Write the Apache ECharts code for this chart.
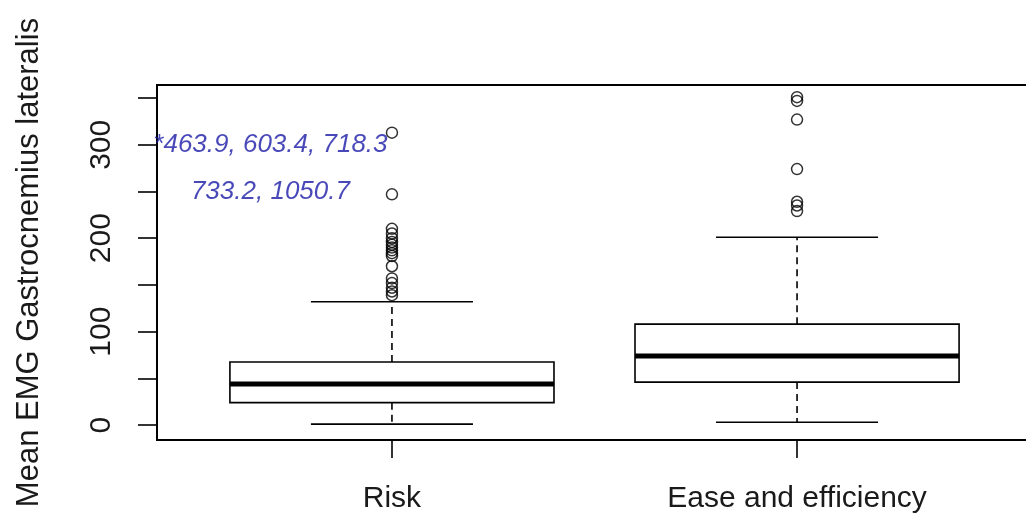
<!DOCTYPE html>
<html>
<head>
<meta charset="utf-8">
<script src="https://cdn.jsdelivr.net/npm/echarts@6/dist/echarts.min.js"></script>
<style>
  html, body { margin: 0; padding: 0; background: #fff; }
  #chart { width: 1026px; height: 518px; }
</style>
</head>
<body>
<div id="chart"></div>
<script>
// ---- data ----
const categories = ['Risk', 'Ease and efficiency'];
// [lower whisker, Q1, median, Q3, upper whisker]
const riskBox = [1, 24, 44, 67.5, 132];
const easeBox = [3, 46, 74, 108, 201];
const riskOutliers = [313, 247, 210, 205, 200, 196, 193, 190, 187, 184, 181, 170, 157, 152, 147, 143, 139];
const easeOutliers = [351, 347, 327, 274, 239, 235, 229];
const yTickValues = [0, 50, 100, 150, 200, 250, 300, 350];
const yLabelValues = [0, 100, 200, 300];
const annotTexts = ['*463.9, 603.4, 718.3', '733.2, 1050.7'];
const annotX = [0.7, 0.7];
const annotY = [300, 250];
const yTitle = 'Mean EMG Gastrocnemius lateralis';

// ---- build ----
const boxData = [[1].concat(riskBox), [2].concat(easeBox)];
const outlierData = riskOutliers.map(v => [1, v]).concat(easeOutliers.map(v => [2, v]));
const annotData = annotTexts.map((t, i) => [annotX[i], annotY[i]]);

const FONT = "'Liberation Sans', Arial, sans-serif";
const chart = echarts.init(document.getElementById('chart'), null, { renderer: 'canvas' });

function renderBox(params, api) {
  const x = api.value(0);
  const lo = api.value(1), q1 = api.value(2), med = api.value(3), q3 = api.value(4), hi = api.value(5);
  const p = (xx, yy) => api.coord([xx, yy]);
  const tl = p(x - 0.4, q3), br = p(x + 0.4, q1);
  const ml = p(x - 0.4, med), mr = p(x + 0.4, med);
  const c3 = p(x, q3), cHi = p(x, hi), c1 = p(x, q1), cLo = p(x, lo);
  const hiL = p(x - 0.2, hi), hiR = p(x + 0.2, hi);
  const loL = p(x - 0.2, lo), loR = p(x + 0.2, lo);
  const lineStyle = { stroke: '#000', lineWidth: 1.6, fill: null };
  const dashStyle = { stroke: '#000', lineWidth: 1.6, lineDash: [7, 5], fill: null };
  return {
    type: 'group',
    children: [
      { type: 'line', shape: { x1: c3[0], y1: c3[1], x2: cHi[0], y2: cHi[1] }, style: dashStyle },
      { type: 'line', shape: { x1: c1[0], y1: c1[1], x2: cLo[0], y2: cLo[1] }, style: dashStyle },
      { type: 'line', shape: { x1: hiL[0], y1: hiL[1], x2: hiR[0], y2: hiR[1] }, style: lineStyle },
      { type: 'line', shape: { x1: loL[0], y1: loL[1], x2: loR[0], y2: loR[1] }, style: lineStyle },
      { type: 'rect', shape: { x: tl[0], y: tl[1], width: br[0] - tl[0], height: br[1] - tl[1] },
        style: { fill: '#fff', stroke: '#000', lineWidth: 1.6 } },
      { type: 'line', shape: { x1: ml[0], y1: ml[1], x2: mr[0], y2: mr[1] },
        style: { stroke: '#000', lineWidth: 5, lineCap: 'butt' } }
    ]
  };
}

const option = {
  animation: false,
  backgroundColor: '#fff',
  grid: {
    left: 157, top: 85, width: 875, height: 355,
    show: true, borderColor: '#000', borderWidth: 2, backgroundColor: 'transparent',
    containLabel: false, outerBoundsMode: 'none'
  },
  xAxis: {
    type: 'value', min: 0.42, max: 2.58,
    axisLine: { show: false, onZero: false },
    splitLine: { show: false },
    axisTick: { show: true, inside: false, length: 18, customValues: [1, 2], lineStyle: { color: '#000', width: 1.6 } },
    axisLabel: {
      show: true, customValues: [1, 2], margin: 44,
      formatter: v => categories[Math.round(v) - 1],
      fontSize: 30, fontFamily: FONT, color: '#1a1a1a'
    }
  },
  yAxis: {
    type: 'value', min: -16, max: 364,
    axisLine: { show: false, onZero: false },
    splitLine: { show: false },
    axisTick: { show: true, inside: false, length: 19, customValues: yTickValues, lineStyle: { color: '#000', width: 1.6 } },
    axisLabel: {
      show: true, customValues: yLabelValues, rotate: 90, margin: 40,
      fontSize: 30, fontFamily: FONT, color: '#1a1a1a'
    },
    name: yTitle, nameLocation: 'middle', nameGap: 112, nameRotate: 90,
    nameTextStyle: { fontSize: 31, fontFamily: FONT, color: '#1a1a1a' }
  },
  series: [
    {
      type: 'custom',
      renderItem: renderBox,
      data: boxData,
      encode: { x: 0, y: [1, 2, 3, 4, 5] },
      z: 2
    },
    {
      type: 'scatter',
      data: outlierData,
      symbol: 'circle',
      symbolSize: 11,
      itemStyle: { color: 'rgba(0,0,0,0)', borderColor: '#000', borderWidth: 1.5 },
      z: 3
    },
    {
      type: 'scatter',
      data: annotData,
      symbolSize: 0,
      silent: true,
      label: {
        show: true, position: 'inside',
        formatter: p => annotTexts[p.dataIndex],
        fontSize: 26, fontStyle: 'italic', fontFamily: FONT, color: '#1a1aa8'
      },
      z: 4
    }
  ]
};
chart.setOption(option);
</script>
</body>
</html>
